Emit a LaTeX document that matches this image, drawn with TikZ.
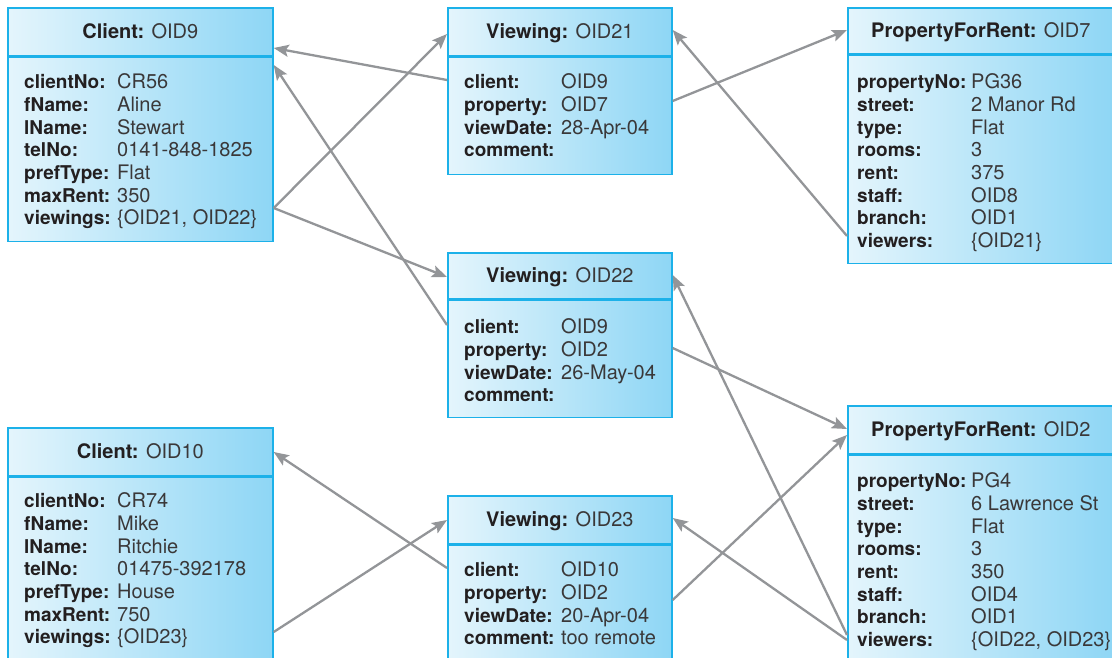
\documentclass[tikz,border=0pt]{standalone}
\usepackage{fontspec}
\setmainfont{TeX Gyre Heros}
\usepackage{array}
\usetikzlibrary{arrows.meta,calc}
\definecolor{ObjEdge}{HTML}{1CB1E9}
\definecolor{ObjLight}{HTML}{E4F5FC}
\definecolor{ObjDark}{HTML}{8ED6F5}
\definecolor{ObjText}{HTML}{231F20}
\definecolor{ValText}{HTML}{3A3839}
\definecolor{LinkGray}{HTML}{939598}
\newcolumntype{V}{>{\fontsize{20}{22.7}\selectfont\color{ValText}}l}
\tikzset{>={Stealth[length=15pt,width=12pt,inset=3pt]},
 every node/.style={font=\fontsize{19}{22.7}\selectfont,text=ObjText},
 objhead/.style={draw=ObjEdge,line width=1.7pt,left color=ObjLight,
 right color=ObjDark,anchor=north west,inner sep=0pt,minimum height=48pt,
 text height=14pt,text depth=0pt,font=\fontsize{20}{22.7}\selectfont},
 objbody/.style={objhead,anchor=north},
 attrs/.style={anchor=base west,inner sep=0pt},
 link/.style={draw=LinkGray,line width=2.3pt,->}}

\begin{document}
\begin{tikzpicture}[x=1pt,y=-1pt]
\useasboundingbox (0,0) rectangle (1112,658);
% Object headers, placed at their top-left corners.
\node[objhead,minimum width=265pt] (c9) at (7,7) {\textbf{Client:} \textcolor{ValText}{OID9}};
\node[objhead,minimum width=224pt] (v21) at (447,7) {\textbf{Viewing:} \textcolor{ValText}{OID21}};
\node[objhead,minimum width=266pt,minimum height=46pt] (p7) at (847,7)
 {\textbf{PropertyForRent:} \textcolor{ValText}{OID7}};
\node[objhead,minimum width=224pt,minimum height=46pt] (v22) at (447,252)
 {\textbf{Viewing:} \textcolor{ValText}{OID22}};
\node[objhead,minimum width=265pt] (c10) at (7,427) {\textbf{Client:} \textcolor{ValText}{OID10}};
\node[objhead,minimum width=224pt] (v23) at (447,495) {\textbf{Viewing:} \textcolor{ValText}{OID23}};
\node[objhead,minimum width=266pt] (p2) at (847,405)
 {\textbf{PropertyForRent:} \textcolor{ValText}{OID2}};
% Bodies hang below the headers.
\node[objbody,minimum width=265pt,minimum height=184pt] (c9b) at (c9.south) {};
\node[objbody,minimum width=224pt,minimum height=117pt] (v21b) at (v21.south) {};
\node[objbody,minimum width=266pt,minimum height=208pt] (p7b) at (p7.south) {};
\node[objbody,minimum width=224pt,minimum height=117pt] (v22b) at (v22.south) {};
\node[objbody,minimum width=265pt,minimum height=192pt] (c10b) at (c10.south) {};
\node[objbody,minimum width=224pt,minimum height=122pt] (v23b) at (v23.south) {};
\node[objbody,minimum width=266pt,minimum height=212pt] (p2b) at (p2.south) {};
% Attribute lists.
\node[attrs] (c9t) at ($(c9b.north west)+(17,32)$)
 {\begin{tabular}[t]{@{}p{93pt}@{}V@{}}
 \textbf{clientNo:}&CR56\\ \textbf{fName:}&Aline\\ \textbf{lName:}&Stewart\\
 \textbf{telNo:}&0141-848-1825\\ \textbf{prefType:}&Flat\\
 \textbf{maxRent:}&350\\ \textbf{viewings:}&\{OID21, OID22\}
 \end{tabular}};
\node[attrs] (v21t) at ($(v21b.north west)+(17,32)$)
 {\begin{tabular}[t]{@{}p{97pt}@{}V@{}}
 \textbf{client:}&OID9\\ \textbf{property:}&OID7\\
 \textbf{viewDate:}&28-Apr-04\\ \textbf{comment:}&
 \end{tabular}};
\node[attrs] (p7t) at ($(p7b.north west)+(10,34)$)
 {\begin{tabular}[t]{@{}p{114pt}@{}V@{}}
 \textbf{propertyNo:}&PG36\\ \textbf{street:}&2 Manor Rd\\ \textbf{type:}&Flat\\
 \textbf{rooms:}&3\\ \textbf{rent:}&375\\ \textbf{staff:}&OID8\\
 \textbf{branch:}&OID1\\ \textbf{viewers:}&\{OID21\}
 \end{tabular}};
\node[attrs] (v22t) at ($(v22b.north west)+(17,34)$)
 {\begin{tabular}[t]{@{}p{97pt}@{}V@{}}
 \textbf{client:}&OID9\\ \textbf{property:}&OID2\\
 \textbf{viewDate:}&26-May-04\\ \textbf{comment:}&
 \end{tabular}};
\node[attrs] (c10t) at ($(c10b.north west)+(17,31)$)
 {\begin{tabular}[t]{@{}p{93pt}@{}V@{}}
 \textbf{clientNo:}&CR74\\ \textbf{fName:}&Mike\\ \textbf{lName:}&Ritchie\\
 \textbf{telNo:}&01475-392178\\ \textbf{prefType:}&House\\
 \textbf{maxRent:}&750\\ \textbf{viewings:}&\{OID23\}
 \end{tabular}};
\node[attrs] (v23t) at ($(v23b.north west)+(17,32)$)
 {\begin{tabular}[t]{@{}p{97pt}@{}V@{}}
 \textbf{client:}&OID10\\ \textbf{property:}&OID2\\
 \textbf{viewDate:}&20-Apr-04\\ \textbf{comment:}&too remote
 \end{tabular}};
\node[attrs] (p2t) at ($(p2b.north west)+(10,33)$)
 {\begin{tabular}[t]{@{}p{114pt}@{}V@{}}
 \textbf{propertyNo:}&PG4\\ \textbf{street:}&6 Lawrence St\\ \textbf{type:}&Flat\\
 \textbf{rooms:}&3\\ \textbf{rent:}&350\\ \textbf{staff:}&OID4\\
 \textbf{branch:}&OID1\\ \textbf{viewers:}&\{OID22, OID23\}
 \end{tabular}};
% References between objects, tail at the attribute, head at the target.
\draw[link] ($(v21.north west)+(0,73)$) -- ($(c9.north east)+(0,41)$);
\draw[link] ($(v22.north west)+(0,73)$) -- ($(c9.north east)+(0,58)$);
\draw[link] ($(c9.north east)+(0,201)$) -- ($(v21.north west)+(0,27)$);
\draw[link] ($(c9.north east)+(0,201)$) -- ($(v22.north west)+(0,25)$);
\draw[link] ($(v21.north east)+(0,94)$) -- ($(p7.north west)+(0,23)$);
\draw[link] ($(p7.north west)+(0,229)$) -- ($(v21.north east)+(0,23)$);
\draw[link] ($(v22.north east)+(0,96)$) -- ($(p2.north west)+(0,24)$);
\draw[link] ($(p2.north west)+(0,230)$) -- ($(v22.north east)+(0,23)$);
\draw[link] ($(v23.north east)+(0,105)$) -- ($(p2.north west)+(0,30)$);
\draw[link] ($(p2.north west)+(0,235)$) -- ($(v23.north east)+(0,23)$);
\draw[link] ($(v23.north west)+(0,73)$) -- ($(c10.north east)+(0,25)$);
\draw[link] ($(c10.north east)+(0,205)$) -- ($(v23.north west)+(0,25)$);
\end{tikzpicture}
\end{document}
